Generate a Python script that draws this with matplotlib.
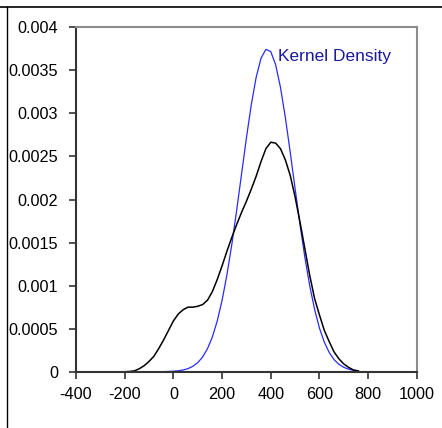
import matplotlib
matplotlib.use("Agg")
import matplotlib.pyplot as plt
from matplotlib.lines import Line2D

plt.rcParams['font.family'] = ['Liberation Sans', 'DejaVu Sans']

# x grid (step 20)
xs = list(range(-200, 780, 20))

# black curve (kernel density of sample)
black = [0.0, 0.000003, 0.00001, 0.000035, 0.00007, 0.00012, 0.00018, 0.00027,
         0.00037, 0.00048, 0.00059, 0.00067, 0.00072, 0.00075, 0.00075, 0.00076,
         0.00078, 0.00083, 0.00093, 0.00107, 0.00123, 0.00140, 0.00156, 0.00171,
         0.00185, 0.00198, 0.00212, 0.00227, 0.00244, 0.00259, 0.002665, 0.002655,
         0.00259, 0.00246, 0.00228, 0.00203, 0.00174, 0.00143, 0.00112, 0.00085,
         0.00066, 0.00048, 0.00035, 0.00023, 0.00015, 0.00009, 0.00005, 0.00002,
         0.00001]

# blue curve
blue = [0.0, 0.0, 0.0, 0.0, 0.0, 0.0, 0.0, 0.0, 0.000001, 0.000003, 0.000006,
        0.000011, 0.00002, 0.000036, 0.000063, 0.000105, 0.000171, 0.000267,
        0.000403, 0.000588, 0.000828, 0.001126, 0.001478, 0.001875, 0.002296,
        0.002715, 0.003101, 0.003419, 0.003641, 0.003744, 0.003718, 0.003566,
        0.003302, 0.002952, 0.002549, 0.002126, 0.001712, 0.001331, 0.001000,
        0.000725, 0.000507, 0.000343, 0.000224, 0.000141, 0.000086, 0.000051,
        0.000029, 0.000016, 0.000008]

xticks = [-400, -200, 0, 200, 400, 600, 800, 1000]
yticks = [0, 0.0005, 0.001, 0.0015, 0.002, 0.0025, 0.003, 0.0035, 0.004]
ylabels = ['0', '0.0005', '0.001', '0.0015', '0.002', '0.0025', '0.003', '0.0035', '0.004']

fig = plt.figure(figsize=(4.42, 4.28), dpi=100)
ax = fig.add_axes([0.172, 0.1315, 0.771, 0.8047])

ax.plot(xs, blue, color='#2a2aff', lw=0.9, solid_joinstyle='round')
ax.plot(xs, black, color='black', lw=1.1, solid_joinstyle='round')

ax.set_xlim(-400, 1000)
ax.set_ylim(0, 0.004)
ax.set_xticks(xticks)
ax.set_xticklabels([str(t) for t in xticks])
ax.set_yticks(yticks)
ax.set_yticklabels(ylabels)
ax.tick_params(direction='out', length=5, width=1.2, color='#333333',
               labelsize=11.7, labelcolor='black')
ax.tick_params(axis='x', pad=6)
ax.tick_params(axis='y', pad=8)

for s in ['left', 'bottom']:
    ax.spines[s].set_color('#333333')
    ax.spines[s].set_linewidth(1.5)
for s in ['top', 'right']:
    ax.spines[s].set_color('#8c8c8c')
    ax.spines[s].set_linewidth(1.5)

ax.text(428, 0.00366, 'Kernel Density', color='#1a1a99', fontsize=12.5,
        va='center', ha='left')

# outer frame lines
fig.add_artist(Line2D([0, 1], [1 - 7 / 428, 1 - 7 / 428], color='black', lw=1.2,
                      transform=fig.transFigure))
fig.add_artist(Line2D([7.5 / 442, 7.5 / 442], [0, 1 - 7 / 428], color='black', lw=1.0,
                      transform=fig.transFigure))

plt.savefig('out.png', dpi=100)
